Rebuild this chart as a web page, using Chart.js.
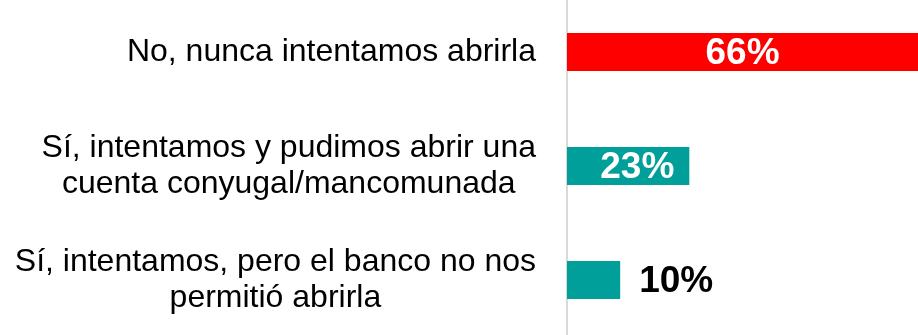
<!DOCTYPE html>
<html>
<head>
<meta charset="utf-8">
<script src="https://cdn.jsdelivr.net/npm/chart.js@4/dist/chart.umd.min.js"></script>
<style>
  html, body { margin: 0; padding: 0; background: #fff; overflow: hidden; }
  #wrap { position: relative; width: 918px; height: 342px; margin-top: -5px; }
</style>
</head>
<body>
<div id="wrap"><canvas id="chart"></canvas></div>
<script>
const categories = [
  ["No, nunca intentamos abrirla"],
  ["Sí, intentamos y pudimos abrir una", "cuenta conyugal/mancomunada"],
  ["Sí, intentamos, pero el banco no nos", "permitió abrirla"]
];
const values = [66, 23, 10];
const barColors = ["#ff0000", "#009f9a", "#009f9a"];

const labelFont = '32px "Liberation Sans", Arial, sans-serif';
const valueFont = 'bold 37px "Liberation Sans", Arial, sans-serif';

// category labels: block right-aligned against the axis, lines centred inside it
const categoryLabels = {
  id: "categoryLabels",
  afterDraw(chart) {
    const ctx = chart.ctx;
    const y = chart.scales.y;
    const right = chart.chartArea.left - 31;
    const lineH = 36;
    ctx.save();
    ctx.font = labelFont;
    ctx.fillStyle = "#000";
    ctx.textAlign = "center";
    ctx.textBaseline = "middle";
    categories.forEach((lines, i) => {
      const w = Math.max(...lines.map(l => ctx.measureText(l).width));
      const cx = right - w / 2;
      const cy = y.getPixelForValue(i);
      const top = cy - (lines.length - 1) * lineH / 2;
      lines.forEach((l, j) => ctx.fillText(l, cx, top + j * lineH));
    });
    ctx.restore();
  }
};

// value labels: inside the bar when it is wide enough, otherwise after it
const valueLabels = {
  id: "valueLabels",
  afterDatasetsDraw(chart) {
    const ctx = chart.ctx;
    const meta = chart.getDatasetMeta(0);
    ctx.save();
    ctx.font = valueFont;
    ctx.textBaseline = "middle";
    meta.data.forEach((bar, i) => {
      const text = values[i] + "%";
      const tw = ctx.measureText(text).width;
      const len = bar.x - bar.base;
      if (len > tw + 60) {
        ctx.fillStyle = "#fff";
        ctx.textAlign = "center";
        ctx.fillText(text, bar.base + len / 2, bar.y + 2);
      } else if (len > tw + 20) {
        ctx.fillStyle = "#fff";
        ctx.textAlign = "right";
        ctx.fillText(text, bar.x - 15, bar.y + 2);
      } else {
        ctx.fillStyle = "#000";
        ctx.textAlign = "left";
        ctx.fillText(text, bar.x + 19, bar.y + 2);
      }
    });
    ctx.restore();
  }
};

new Chart(document.getElementById("chart"), {
  type: "bar",
  data: {
    labels: categories,
    datasets: [{
      data: values,
      backgroundColor: barColors,
      borderWidth: 0,
      categoryPercentage: 1,
      barPercentage: 0.333
    }]
  },
  options: {
    indexAxis: "y",
    responsive: true,
    maintainAspectRatio: false,
    animation: false,
    events: [],
    layout: { padding: { left: 567, right: 0, top: 0, bottom: 0 } },
    plugins: { legend: { display: false }, tooltip: { enabled: false } },
    scales: {
      x: { display: false, min: 0, max: 66 },
      y: {
        afterFit: s => { s.width = 0; },
        grid: { display: false },
        ticks: { display: false },
        border: { display: true, color: "#d9d9d9", width: 2 }
      }
    }
  },
  plugins: [categoryLabels, valueLabels]
});
</script>
</body>
</html>
